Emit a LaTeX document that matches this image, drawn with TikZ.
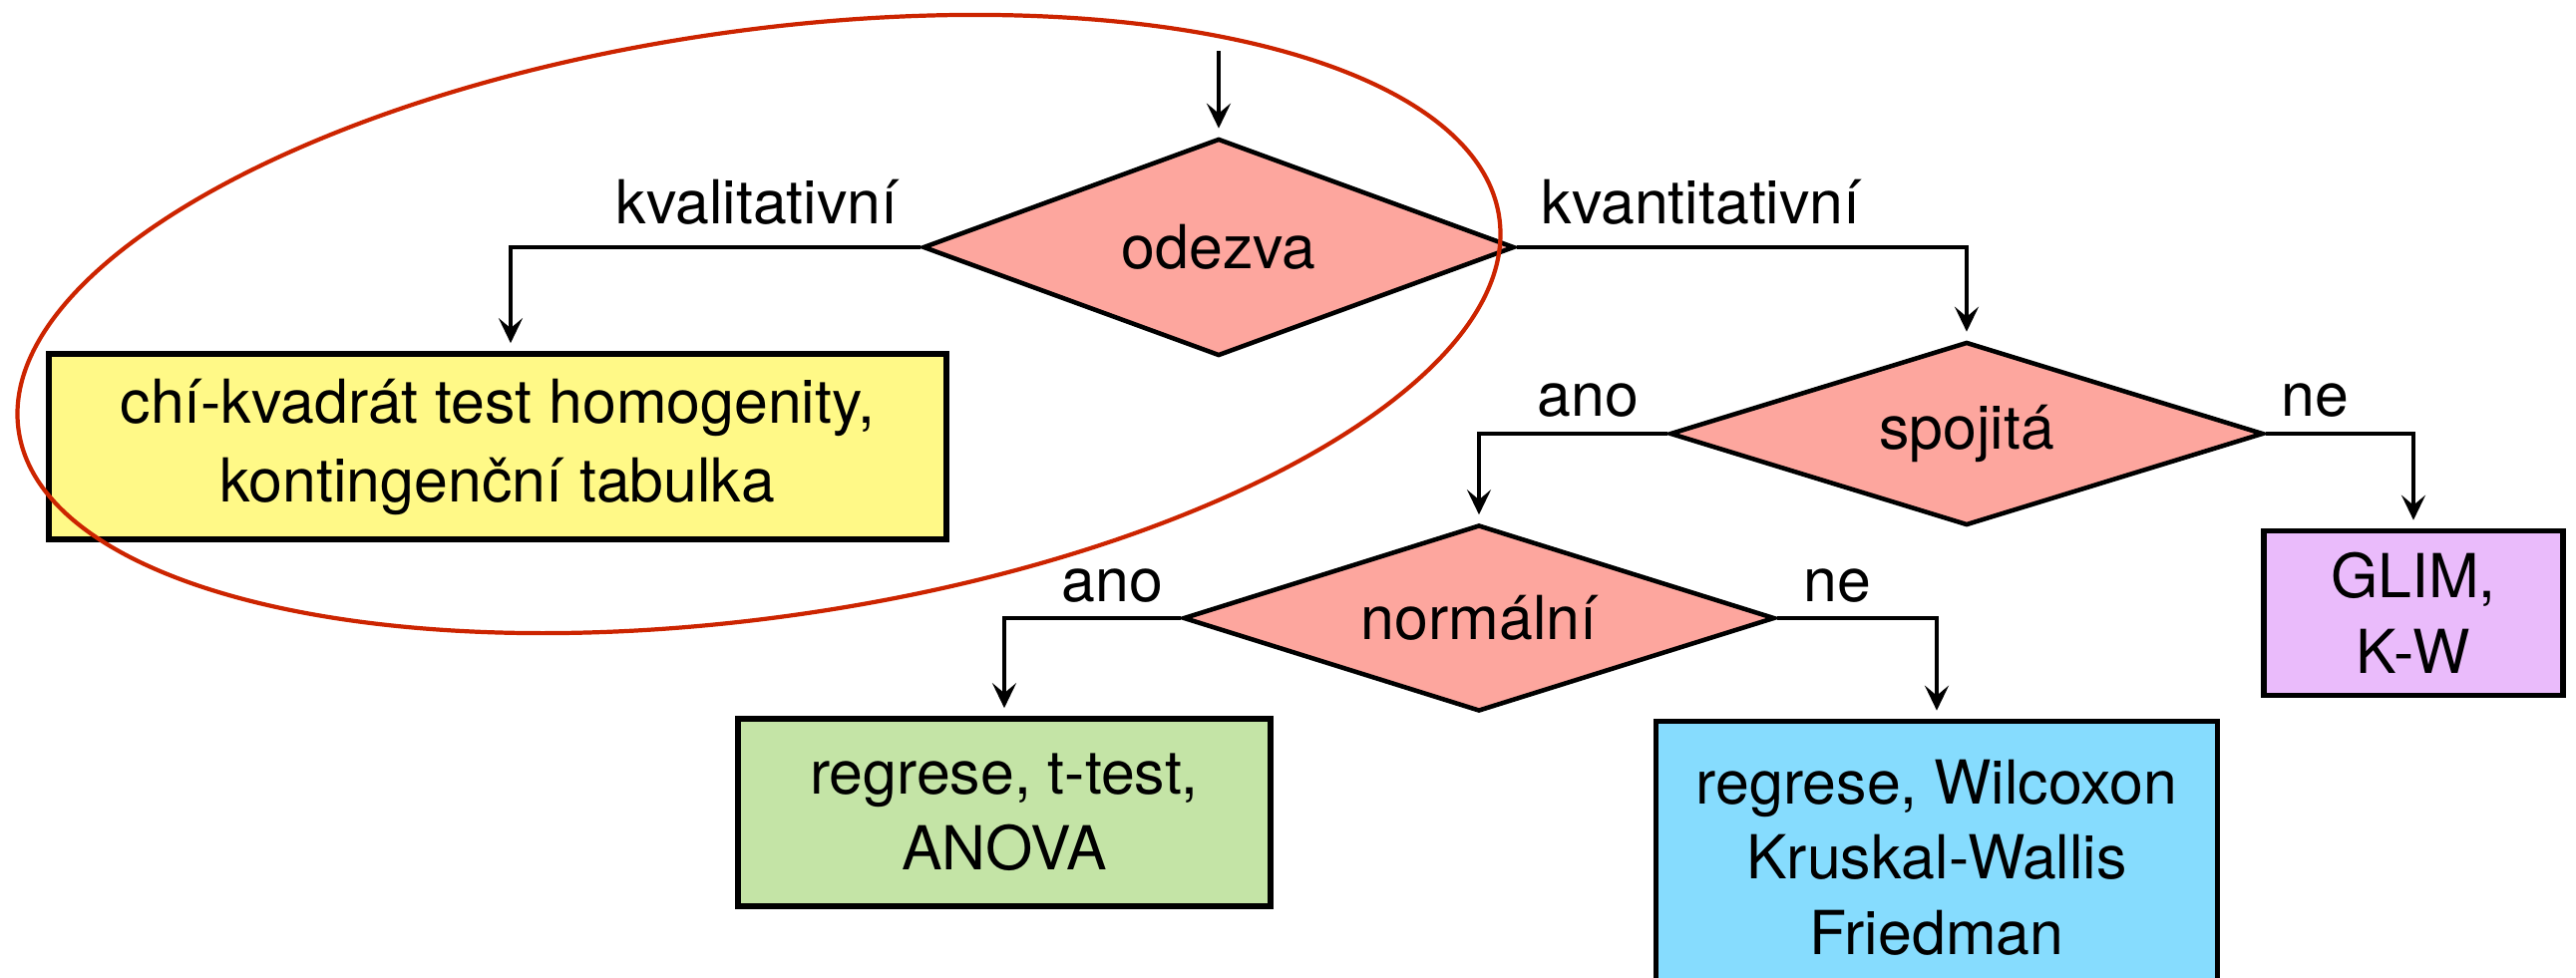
\documentclass[tikz,border=0pt]{standalone}
\usepackage{fontspec}
\setmainfont{TeX Gyre Heros}
\usetikzlibrary{shapes.geometric,arrows.meta}
\definecolor{losos}{RGB}{253,166,158}
\definecolor{zluta}{RGB}{255,249,135}
\definecolor{zelena}{RGB}{196,228,166}
\definecolor{modra}{RGB}{134,220,254}
\definecolor{fialova}{RGB}{234,187,251}
\definecolor{cervena}{RGB}{204,36,0}
\begin{document}
\begin{tikzpicture}[
	every node/.style={font=\fontsize{17.3}{21.5}\selectfont},
	rozhod/.style={diamond,draw,line width=1.3pt,fill=losos,aspect=3,inner sep=0pt},
	vysl/.style={rectangle,draw,line width=1.6pt,align=center,inner sep=0pt},
	sipka/.style={line width=1pt,-{Stealth[length=2.5mm,width=2.4mm,inset=1mm]},shorten >=0.8mm},
	popis/.style={inner sep=0pt}]
	\useasboundingbox (0,0) rectangle (25.83,9.80);

	% rozhodovani
	\node[rozhod,minimum width=5.93cm,minimum height=2.18cm] (odezva) at (12.22,7.32) {odezva};
	\node[rozhod,minimum width=5.95cm,minimum height=1.84cm] (spojita) at (19.72,5.45) {spojitá};
	\node[rozhod,minimum width=5.93cm,minimum height=1.87cm] (normalni) at (14.83,3.60) {normální};

	% vysledky
	\node[vysl,fill=zluta,minimum width=9cm,minimum height=1.86cm,font=\fontsize{17.3}{22.5}\selectfont] (chi) at (4.99,5.32)
		{chí-kvadrát test homogenity,\\kontingenční tabulka};
	\node[vysl,fill=zelena,minimum width=5.34cm,minimum height=1.88cm] (ttest) at (10.07,1.65) {regrese, t-test,\\ANOVA};
	\node[vysl,fill=modra,minimum width=5.63cm,minimum height=2.73cm] (wilcox) at (19.42,1.20)
		{regrese, Wilcoxon\\Kruskal-Wallis\\Friedman};
	\node[vysl,fill=fialova,minimum width=3cm,minimum height=1.65cm] (glim) at (24.20,3.65) {GLIM,\\K-W};

	% popisky
	\node[popis,anchor=base east] (kval) at (9.01,7.56) {kvalitativní};
	\node[popis,anchor=base west] (kvant) at (15.45,7.56) {kvantitativní};
	\node[popis,anchor=base east] (sano) at (16.44,5.63) {ano};
	\node[popis,anchor=base west] (sne) at (22.87,5.63) {ne};
	\node[popis,anchor=base east] (nano) at (11.67,3.77) {ano};
	\node[popis,anchor=base west] (nne) at (18.08,3.77) {ne};

	% sipky
	\coordinate (vstup) at (12.22,9.29);
	\draw[sipka] (vstup) -- (odezva.north);
	\draw[sipka] (odezva.west) -| ([xshift=1.3mm]chi.north);
	\draw[sipka] (odezva.east) -| (spojita.north);
	\draw[sipka] (spojita.west) -| (normalni.north);
	\draw[sipka] (spojita.east) -| (glim.north);
	\draw[sipka] (normalni.west) -| (ttest.north);
	\draw[sipka] (normalni.east) -| (wilcox.north);

	\draw[cervena,line width=1.2pt,rotate around={8.2:(7.61,6.55)}] (7.61,6.55) ellipse [x radius=7.5, y radius=2.94];
\end{tikzpicture}
\end{document}
